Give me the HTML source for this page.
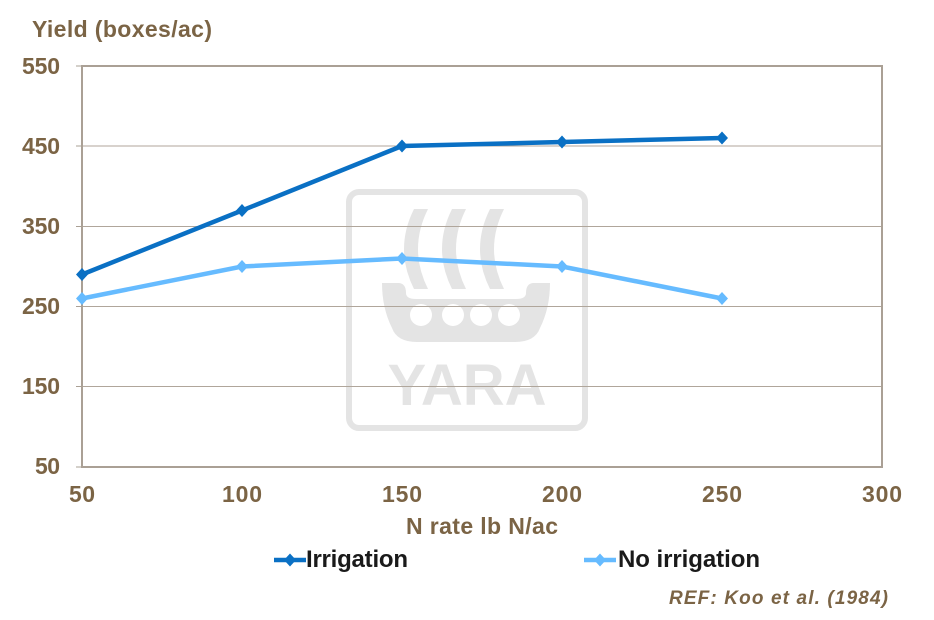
<!DOCTYPE html>
<html><head><meta charset="utf-8"><style>
html,body{margin:0;padding:0;background:#fff}
svg{display:block}
text{font-family:"Liberation Sans",Arial,sans-serif;font-weight:bold;fill:#7b6445}
</style></head><body>
<svg width="934" height="620" viewBox="0 0 934 620" xmlns="http://www.w3.org/2000/svg">
<g fill="#e4e4e4">
<rect x="349" y="192" width="236" height="236" rx="10" fill="none" stroke="#e4e4e4" stroke-width="6"/>
<path d="M414 209 h14 q-20 40 0 80 h-14 q-20 -40 0 -80z"/>
<path d="M452 209 h14 q-20 40 0 80 h-14 q-20 -40 0 -80z"/>
<path d="M490 209 h14 q-20 40 0 80 h-14 q-20 -40 0 -80z"/>
<path d="M382 283 h16 q8 0 8 10 q0 6 10 6 h100 q10 0 10 -6 q0 -10 8 -10 h16 q0 25 -10 45 q-5 14 -25 14 h-98 q-20 0 -25 -14 q-10 -20 -10 -45z"/>
<text x="467" y="405" text-anchor="middle" font-size="58" style="fill:#e4e4e4">YARA</text>
</g>
<g fill="#fff"><circle cx="421" cy="315" r="11"/><circle cx="453" cy="315" r="11"/><circle cx="481" cy="315" r="11"/><circle cx="509" cy="315" r="11"/></g>
<g stroke="#b0a69b" stroke-width="1">
<line x1="82" y1="146" x2="882" y2="146"/>
<line x1="82" y1="226.5" x2="882" y2="226.5"/>
<line x1="82" y1="306.5" x2="882" y2="306.5"/>
<line x1="82" y1="386.5" x2="882" y2="386.5"/>
</g>
<rect x="82" y="66" width="800" height="401" fill="none" stroke="#aaa095" stroke-width="2"/>
<g stroke="#aaa095" stroke-width="1">
<line x1="76" y1="66" x2="82" y2="66"/><line x1="76" y1="146" x2="82" y2="146"/><line x1="76" y1="226.5" x2="82" y2="226.5"/><line x1="76" y1="306.5" x2="82" y2="306.5"/><line x1="76" y1="386.5" x2="82" y2="386.5"/><line x1="76" y1="467" x2="82" y2="467"/>
</g>
<g font-size="23">
<text x="22" y="74" textLength="38">550</text><text x="22" y="154" textLength="38">450</text><text x="22" y="234" textLength="38">350</text><text x="22" y="314" textLength="38">250</text><text x="22" y="394" textLength="38">150</text><text x="35" y="474" textLength="25">50</text>
</g>
<g font-size="23">
<text x="69" y="502" textLength="26">50</text><text x="222" y="502" textLength="40">100</text><text x="382" y="502" textLength="40">150</text><text x="542" y="502" textLength="40">200</text><text x="702" y="502" textLength="40">250</text><text x="862" y="502" textLength="40">300</text>
</g>
<text x="32" y="37" font-size="23" textLength="180">Yield (boxes/ac)</text>
<text x="406" y="534" font-size="23" textLength="152">N rate lb N/ac</text>
<text x="669" y="604" font-size="19" textLength="219" font-style="italic">REF: Koo et al. (1984)</text>
<polyline points="82,298.5 242,266.5 402,258.5 562,266.5 722,298.5" fill="none" stroke="#66bbff" stroke-width="4.5"/>
<polyline points="82,274.5 242,210.5 402,146 562,142 722,138" fill="none" stroke="#0a70c4" stroke-width="4.5"/>
<g fill="#66bbff">
<path d="M82 292l6 6.5l-6 6.5l-6-6.5z"/><path d="M242 260l6 6.5l-6 6.5l-6-6.5z"/><path d="M402 252l6 6.5l-6 6.5l-6-6.5z"/><path d="M562 260l6 6.5l-6 6.5l-6-6.5z"/><path d="M722 292l6 6.5l-6 6.5l-6-6.5z"/>
</g>
<g fill="#0a70c4">
<path d="M82 268l6 6.5l-6 6.5l-6-6.5z"/><path d="M242 204l6 6.5l-6 6.5l-6-6.5z"/><path d="M402 139.5l6 6.5l-6 6.5l-6-6.5z"/><path d="M562 135.5l6 6.5l-6 6.5l-6-6.5z"/><path d="M722 131.5l6 6.5l-6 6.5l-6-6.5z"/>
</g>
<line x1="274" y1="560" x2="306" y2="560" stroke="#0a70c4" stroke-width="4.5"/>
<path d="M290 553.5l6 6.5l-6 6.5l-6-6.5z" fill="#0a70c4"/>
<text x="306" y="567" font-size="24" textLength="102" style="fill:#1a1a1a">Irrigation</text>
<line x1="584" y1="560" x2="616" y2="560" stroke="#66bbff" stroke-width="4.5"/>
<path d="M600 553.5l6 6.5l-6 6.5l-6-6.5z" fill="#66bbff"/>
<text x="618" y="567" font-size="24" textLength="142" style="fill:#1a1a1a">No irrigation</text>
</svg>
</body></html>
